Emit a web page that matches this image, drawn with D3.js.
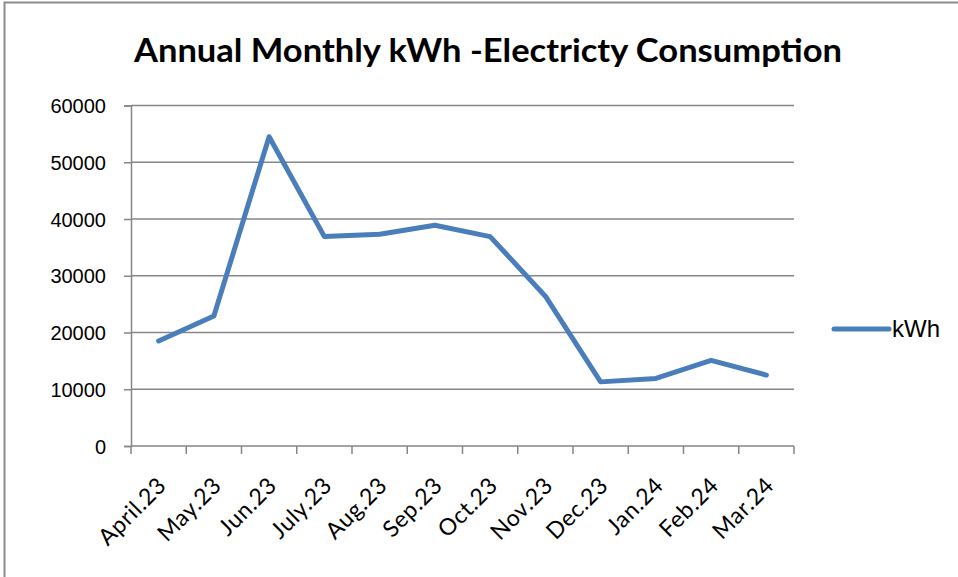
<!DOCTYPE html>
<html>
<head>
<meta charset="utf-8">
<script src="https://cdn.jsdelivr.net/npm/d3@7"></script>
<style>
  body { margin: 0; background: #fff; }
</style>
</head>
<body>
<div id="chart"></div>
<script>
const months = ["April.23", "May.23", "Jun.23", "July.23", "Aug.23", "Sep.23", "Oct.23", "Nov.23", "Dec.23", "Jan.24", "Feb.24", "Mar.24"]
const kwh = [18500, 22900, 54500, 36900, 37300, 38900, 36900, 26400, 11300, 11900, 15100, 12500]
const yTicks = [0, 10000, 20000, 30000, 40000, 50000, 60000]
const seriesName = "kWh"
const title = "Annual Monthly kWh -Electricty Consumption"

const width = 958, height = 577
const plot = {left: 131, right: 794, top: 105.5, bottom: 446}
const lineColor = "#4a7ebb"
const gridColor = "#868686"

const svg = d3.select("#chart").append("svg")
    .attr("width", width)
    .attr("height", height)

// chart frame
svg.append("rect")
    .attr("x", 4.5).attr("y", 2.5)
    .attr("width", width + 10).attr("height", height + 10)
    .attr("fill", "none")
    .attr("stroke", "#8c8c8c")
    .attr("stroke-width", 2)

svg.append("text")
    .attr("x", 488).attr("y", 62)
    .attr("text-anchor", "middle")
    .attr("textLength", 708)
    .attr("lengthAdjust", "spacingAndGlyphs")
    .style("font-family", "Lato, 'Open Sans', sans-serif")
    .style("font-weight", "bold")
    .style("font-size", "33px")
    .text(title)

const x = d3.scaleBand().domain(months).range([plot.left, plot.right])
const y = d3.scaleLinear().domain([0, 60000]).range([plot.bottom, plot.top])

// gridlines
svg.append("g")
    .selectAll("line")
    .data(yTicks.filter(d => d > 0))
    .join("line")
    .attr("x1", plot.left).attr("x2", plot.right)
    .attr("y1", d => y(d)).attr("y2", d => y(d))
    .attr("stroke", gridColor)
    .attr("stroke-width", 1.5)

// y axis
const yAxis = svg.append("g")
    .attr("transform", `translate(${plot.left},0)`)
    .call(d3.axisLeft(y).tickValues(yTicks).tickSize(7).tickPadding(18).tickFormat(d3.format("d")))
yAxis.select(".domain").attr("stroke", gridColor).attr("stroke-width", 1.5)
yAxis.selectAll(".tick line").attr("stroke", gridColor).attr("stroke-width", 1.5)
yAxis.selectAll(".tick text")
    .attr("fill", "#000")
    .style("font-family", "'Liberation Sans', Arial, sans-serif")
    .style("font-size", "20px")
    .attr("dy", "0.35em")

// x axis (ticks at category boundaries)
const xAxis = svg.append("g")
    .attr("transform", `translate(0,${plot.bottom})`)
xAxis.append("line")
    .attr("x1", plot.left).attr("x2", plot.right)
    .attr("stroke", gridColor).attr("stroke-width", 1.5)
xAxis.selectAll("line.tick")
    .data(months.concat(["end"]))
    .join("line")
    .attr("class", "tick")
    .attr("x1", (d, i) => plot.left + i * x.step())
    .attr("x2", (d, i) => plot.left + i * x.step())
    .attr("y1", 0).attr("y2", 8)
    .attr("stroke", gridColor).attr("stroke-width", 1.5)
xAxis.selectAll("text")
    .data(months)
    .join("text")
    .attr("text-anchor", "end")
    .attr("transform", d => `translate(${x(d) + x.bandwidth() / 2 + 9},${41}) rotate(-45)`)
    .style("font-family", "Lato, 'Open Sans', sans-serif")
    .style("font-size", "23px")
    .style("letter-spacing", "0.6px")
    .text(d => d)

// line
const line = d3.line()
    .x((d, i) => x(months[i]) + x.bandwidth() / 2)
    .y(d => y(d))
svg.append("path")
    .datum(kwh)
    .attr("d", line)
    .attr("fill", "none")
    .attr("stroke", lineColor)
    .attr("stroke-width", 5)
    .attr("stroke-linejoin", "round")
    .attr("stroke-linecap", "round")

// legend
const legend = svg.append("g").attr("transform", "translate(834,329)")
legend.append("line")
    .attr("x1", 0).attr("x2", 55)
    .attr("stroke", lineColor)
    .attr("stroke-width", 5)
    .attr("stroke-linecap", "round")
legend.append("text")
    .attr("x", 58).attr("y", 8)
    .style("font-family", "'Liberation Sans', Arial, sans-serif")
    .style("font-size", "24px")
    .text(seriesName)
</script>
</body>
</html>
